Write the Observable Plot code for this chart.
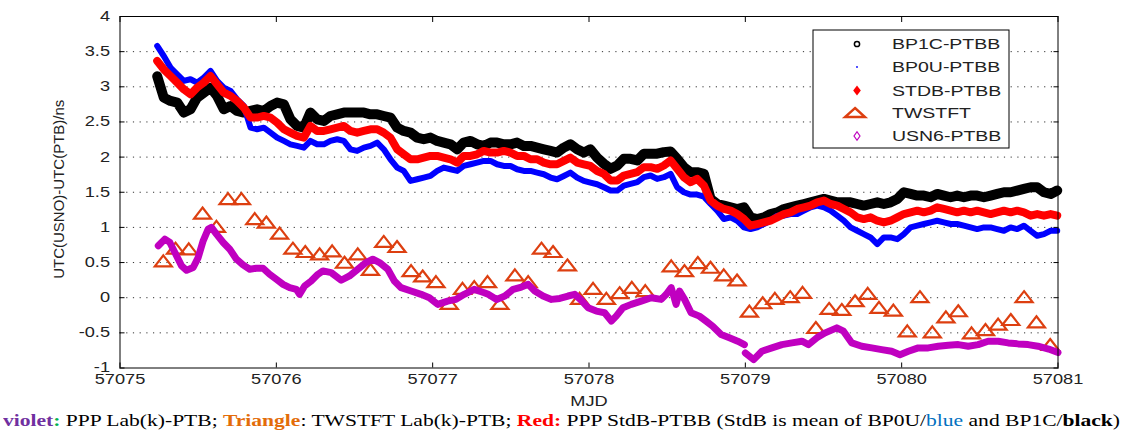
<!DOCTYPE html>
<html><head><meta charset="utf-8">
<script src="https://cdn.jsdelivr.net/npm/d3@7"></script>
<script src="https://cdn.jsdelivr.net/npm/@observablehq/plot@0.6"></script>
<style>
body{margin:0;background:#fff;}
#chart{position:relative;width:1126px;height:433px;overflow:hidden;background:#fff;}
#caption{position:absolute;left:3px;top:411px;white-space:nowrap;font-family:"Liberation Serif","Times New Roman",serif;font-size:17px;line-height:20px;transform-origin:0 0;color:#000;}
</style></head><body>
<div id="chart"></div>
<script>
// ---------- data ----------
const xTicks = [57075, 57076, 57077, 57078, 57079, 57080, 57081];
const yTicks = [-1, -0.5, 0, 0.5, 1, 1.5, 2, 2.5, 3, 3.5, 4];
const yGrid = [-0.5, 0, 0.5, 1, 1.5, 2, 2.5, 3, 3.5];
const seriesNames = ["BP1C-PTBB", "BP0U-PTBB", "STDB-PTBB", "TWSTFT", "USN6-PTBB"];

const denseMjd = [
 57075.238,57075.280,57075.323,57075.366,57075.408,57075.451,57075.493,57075.536,57075.579,57075.621,
 57075.664,57075.707,57075.749,57075.792,57075.835,57075.877,57075.920,57075.963,57076.005,57076.048,
 57076.090,57076.133,57076.176,57076.218,57076.261,57076.304,57076.346,57076.389,57076.432,57076.474,
 57076.517,57076.560,57076.602,57076.645,57076.687,57076.730,57076.773,57076.815,57076.858,57076.901,
 57076.943,57076.986,57077.029,57077.071,57077.114,57077.157,57077.199,57077.242,57077.284,57077.327,
 57077.370,57077.412,57077.455,57077.498,57077.540,57077.583,57077.626,57077.668,57077.711,57077.754,
 57077.796,57077.839,57077.881,57077.924,57077.967,57078.009,57078.052,
 57078.095,57078.138,57078.181,57078.223,57078.266,57078.309,57078.351,57078.394,57078.436,57078.479,
 57078.522,57078.564,57078.607,57078.650,57078.692,57078.735,57078.778,57078.820,57078.863,57078.906,
 57078.948,57078.991,57079.033,57079.076,57079.119,57079.161,57079.204,57079.247,57079.289,57079.332,
 57079.375,57079.417,57079.460,57079.503,57079.545,57079.588,57079.630,57079.673,57079.716,57079.758,
 57079.801,57079.844,57079.886,57079.929,57079.972,57080.014,57080.057,57080.100,57080.142,57080.185,
 57080.227,57080.270,57080.313,57080.355,57080.398,57080.441,57080.483,57080.526,57080.569,57080.611,
 57080.654,57080.697,57080.739,57080.782,57080.825,57080.867,57080.910,57080.953,57080.995];

const bp1c = [
 3.150,2.846,2.799,2.775,2.633,2.680,2.846,2.917,2.988,2.870,
 2.680,2.727,2.656,2.633,2.656,2.680,2.656,2.727,2.775,2.751,
 2.538,2.443,2.419,2.633,2.538,2.514,2.585,2.609,2.633,2.633,
 2.633,2.633,2.609,2.609,2.585,2.562,2.419,2.372,2.348,2.277,
 2.254,2.277,2.230,2.206,2.182,2.111,2.206,2.230,2.182,2.159,
 2.206,2.206,2.182,2.182,2.206,2.159,2.159,2.135,2.111,2.088,
 2.064,2.135,2.182,2.111,2.064,2.111,1.993,
 1.905,1.833,1.881,1.976,1.976,1.952,2.048,2.048,2.048,2.071,
 2.080,1.976,1.857,1.786,1.786,1.762,1.405,1.333,1.310,1.286,
 1.262,1.286,1.143,1.119,1.143,1.190,1.214,1.262,1.286,1.310,
 1.333,1.357,1.381,1.405,1.381,1.357,1.357,1.357,1.333,1.310,
 1.333,1.357,1.333,1.357,1.405,1.500,1.476,1.452,1.452,1.429,
 1.476,1.452,1.429,1.452,1.429,1.452,1.452,1.429,1.452,1.476,
 1.500,1.500,1.524,1.548,1.571,1.571,1.500,1.476,1.524];

const bp0u = [
 3.581,3.438,3.273,3.178,3.083,3.107,3.059,3.130,3.225,3.083,
 2.988,2.941,2.822,2.727,2.419,2.396,2.419,2.348,2.277,2.230,
 2.182,2.159,2.135,2.230,2.182,2.182,2.230,2.254,2.230,2.111,
 2.088,2.135,2.159,2.206,2.111,1.969,1.851,1.803,1.661,1.685,
 1.709,1.732,1.803,1.851,1.827,1.803,1.874,1.898,1.922,1.946,
 1.946,1.898,1.874,1.874,1.827,1.803,1.803,1.780,1.756,1.709,
 1.685,1.732,1.780,1.709,1.661,1.637,1.614,
 1.571,1.524,1.524,1.595,1.619,1.643,1.714,1.738,1.690,1.714,
 1.762,1.571,1.500,1.467,1.467,1.438,1.333,1.238,1.119,1.143,
 1.095,1.000,0.976,1.000,1.048,1.095,1.167,1.167,1.190,1.190,
 1.238,1.286,1.310,1.286,1.238,1.167,1.095,1.000,0.952,0.905,
 0.857,0.762,0.857,0.857,0.833,0.905,1.000,1.024,1.048,1.071,
 1.095,1.071,1.048,1.048,1.024,1.000,0.976,1.000,1.000,0.976,
 0.952,1.000,0.976,1.024,0.952,0.881,0.905,0.952,0.952];

const stdb = [
 3.367,3.249,3.154,3.059,2.964,2.893,2.988,3.059,3.154,3.036,
 2.917,2.870,2.799,2.704,2.562,2.562,2.585,2.562,2.491,2.396,
 2.348,2.301,2.277,2.443,2.372,2.372,2.396,2.419,2.443,2.372,
 2.348,2.372,2.396,2.396,2.348,2.277,2.111,2.040,1.969,1.969,
 1.993,2.017,2.017,1.993,1.969,1.922,2.017,2.017,2.040,2.088,
 2.064,2.064,2.088,2.064,2.017,2.017,1.969,1.969,1.922,1.898,
 1.898,1.946,1.993,1.922,1.898,1.874,1.803,
 1.762,1.667,1.667,1.738,1.762,1.786,1.857,1.857,1.833,1.881,
 1.952,1.833,1.714,1.643,1.690,1.595,1.381,1.310,1.262,1.238,
 1.190,1.119,1.024,1.048,1.071,1.095,1.143,1.190,1.214,1.262,
 1.286,1.310,1.357,1.381,1.333,1.310,1.262,1.214,1.143,1.119,
 1.143,1.095,1.071,1.095,1.143,1.190,1.214,1.238,1.214,1.238,
 1.286,1.262,1.238,1.214,1.238,1.214,1.238,1.214,1.190,1.214,
 1.238,1.214,1.238,1.214,1.167,1.190,1.167,1.190,1.167];

const twMjd = [
 57075.277,57075.355,57075.440,57075.528,57075.617,57075.691,57075.777,57075.862,57075.936,57076.021,
 57076.106,57076.185,57076.277,57076.357,57076.436,57076.521,57076.602,57076.687,57076.772,57076.862,
 57076.936,57077.021,57077.106,57077.191,57077.266,57077.351,57077.430,57077.526,57077.611,57077.696,
 57077.770,57077.862,57077.940,57078.026,57078.111,57078.196,57078.274,57078.360,57078.526,57078.611,
 57078.696,57078.777,57078.862,57078.947,57079.026,57079.111,57079.189,57079.287,57079.366,57079.451,
 57079.536,57079.617,57079.702,57079.783,57079.855,57079.947,57080.036,57080.117,57080.196,57080.283,
 57080.362,57080.447,57080.536,57080.617,57080.698,57080.783,57080.862,57080.950];
const twVal = [
 0.510,0.690,0.681,1.190,1.000,1.395,1.395,1.110,1.062,0.905,
 0.690,0.643,0.610,0.652,0.490,0.610,0.390,0.786,0.714,0.371,
 0.295,0.214,-0.095,0.119,0.143,0.214,-0.095,0.310,0.214,0.690,
 0.643,0.452,-0.024,0.119,-0.024,0.057,0.133,0.086,0.438,0.371,
 0.486,0.419,0.310,0.238,-0.205,-0.086,-0.024,0.000,0.062,-0.438,
 -0.167,-0.181,-0.057,0.048,-0.152,-0.190,-0.486,0.000,-0.500,-0.286,
 -0.200,-0.514,-0.467,-0.390,-0.324,0.000,-0.357,-0.680];

const usnMjd1 = [
 57075.245,57075.287,57075.319,57075.351,57075.394,57075.426,57075.468,57075.500,57075.532,57075.564,
 57075.585,57075.617,57075.660,57075.702,57075.745,57075.787,57075.830,57075.872,57075.915,57075.957,
 57076.000,57076.043,57076.085,57076.128,57076.149,57076.181,57076.223,57076.266,57076.298,57076.351,
 57076.415,57076.468,57076.521,57076.574,57076.617,57076.660,57076.713,57076.755,57076.798,57076.862,
 57076.926,57076.979,57077.032,57077.096,57077.149,57077.202,57077.266,57077.330,57077.355,57077.409,
 57077.462,57077.515,57077.568,57077.611,57077.653,57077.706,57077.760,57077.813,57077.866,57077.909,
 57077.951,57077.994,57078.047,57078.100,57078.143,57078.174,57078.217,57078.270,57078.334,57078.398,
 57078.462,57078.494,57078.526,57078.557,57078.579,57078.611,57078.653,57078.706,57078.749,57078.791,
 57078.845,57078.898,57078.951,57078.994];
const usnVal1 = [
 0.738,0.833,0.786,0.643,0.452,0.390,0.429,0.571,0.810,0.976,
 1.000,0.905,0.786,0.690,0.548,0.467,0.405,0.419,0.419,0.333,
 0.262,0.190,0.143,0.119,0.048,0.167,0.238,0.333,0.381,0.357,
 0.248,0.310,0.405,0.500,0.548,0.500,0.405,0.238,0.143,0.095,
 0.048,0.000,-0.095,-0.048,-0.024,0.048,0.119,0.071,0.048,-0.024,
 0.024,0.119,0.152,0.190,0.095,0.024,-0.024,-0.010,0.024,0.048,
 -0.038,-0.143,-0.190,-0.214,-0.333,-0.262,-0.143,-0.095,-0.048,0.000,
 -0.024,0.048,0.143,-0.095,0.095,-0.024,-0.214,-0.262,-0.333,-0.405,
 -0.524,-0.571,-0.619,-0.667];
const usnMjd2 = [
 57079.000,57079.053,57079.106,57079.170,57079.234,57079.298,57079.362,57079.404,57079.457,57079.511,
 57079.585,57079.628,57079.681,57079.745,57079.809,57079.872,57079.936,57079.989,57080.043,57080.106,
 57080.170,57080.234,57080.298,57080.362,57080.426,57080.489,57080.553,57080.617,57080.681,57080.745,
 57080.809,57080.872,57080.940,57081.000];
const usnVal2 = [
 -0.786,-0.881,-0.762,-0.714,-0.667,-0.643,-0.619,-0.667,-0.571,-0.500,
 -0.429,-0.476,-0.643,-0.690,-0.714,-0.738,-0.762,-0.810,-0.762,-0.714,
 -0.714,-0.690,-0.676,-0.667,-0.690,-0.667,-0.619,-0.619,-0.643,-0.657,
 -0.667,-0.690,-0.730,-0.780];

// ---------- tables ----------
const dense = denseMjd.map((m, i) => ({m, bp1c: bp1c[i], bp0u: bp0u[i], stdb: stdb[i]}));
const tw = twMjd.map((m, i) => ({m, v: twVal[i]}));
const usn = [
  ...usnMjd1.map((m, i) => ({m, v: usnVal1[i], seg: 1})),
  ...usnMjd2.map((m, i) => ({m, v: usnVal2[i], seg: 2}))
];

const colBlack = "#000000", colBlue = "#0000ff", colRed = "#ff0000", colTri = "#dd3f10", colViolet = "#c000c0";
const triSymbol = {draw(ctx) { ctx.moveTo(0, -6.5); ctx.lineTo(8.5, 4.5); ctx.lineTo(-8.5, 4.5); ctx.closePath(); }};

const W = 1126, H = 407;
const svg = Plot.plot({
  width: W, height: H,
  marginLeft: 119.5, marginRight: 68.5, marginTop: 16, marginBottom: 39.5,
  x: {domain: [57075, 57081]},
  y: {domain: [-1, 4]},
  style: {fontFamily: "'Liberation Sans', Arial, sans-serif", fontSize: "14px", color: "#222", background: "#fff", overflow: "visible"},
  marks: [
    Plot.gridY(yGrid, {stroke: "#000", strokeOpacity: 0.8, strokeDasharray: "1.2,5.5", strokeWidth: 1}),
    Plot.line(dense, {x: "m", y: "bp1c", stroke: colBlack, strokeWidth: 10, strokeLinejoin: "round", strokeLinecap: "round"}),
    Plot.line(dense, {x: "m", y: "bp0u", stroke: colBlue, strokeWidth: 6, strokeLinejoin: "round", strokeLinecap: "round"}),
    Plot.line(dense, {x: "m", y: "stdb", stroke: colRed, strokeWidth: 8, strokeLinejoin: "round", strokeLinecap: "round"}),
    Plot.dot(tw, {x: "m", y: "v", symbol: triSymbol, stroke: colTri, strokeWidth: 2.2, fill: "none", r: 6}),
    Plot.line(usn, {x: "m", y: "v", z: "seg", stroke: colViolet, strokeWidth: 7, strokeLinejoin: "round", strokeLinecap: "round"}),
    Plot.frame({stroke: "#000", strokeWidth: 1}),
    Plot.axisY(yTicks, {anchor: "left", tickSize: -5, tickPadding: 15, tickFormat: d => String(d), label: null, stroke: "#000"}),
    Plot.axisY(yTicks, {anchor: "right", tickSize: -5, tickPadding: 0, tickFormat: () => "", label: null, stroke: "#000"}),
    Plot.axisX(xTicks, {anchor: "bottom", tickSize: -5, tickPadding: 11, tickFormat: d => String(d), label: null, stroke: "#000"}),
    Plot.axisX(xTicks, {anchor: "top", tickSize: -5, tickPadding: 0, tickFormat: () => "", label: null, stroke: "#000"}),
    Plot.text(["UTC(USNO)-UTC(PTB)/ns"], {frameAnchor: "left", textAnchor: "middle", lineAnchor: "middle", rotate: -90, dx: -61, dy: -3, fontSize: 15, fill: "#222"}),
    Plot.text(["MJD"], {frameAnchor: "bottom", textAnchor: "middle", lineAnchor: "middle", dy: 34, fontSize: 14, fill: "#222"})
  ]
});

// horizontal stretch of non-rotated labels (the reference text is wide)
const SX = 1.3;
svg.querySelectorAll("text").forEach(t => {
  const tr = t.getAttribute("transform") || "";
  if (tr.includes("rotate")) return;
  t.setAttribute("transform", (tr + ` scale(${SX},1)`).trim());
});

// legend (inside the plot, top-right)
const sel = d3.select(svg);
const lg = sel.append("g").attr("class", "legend");
const bx = 813, by = 30, bw = 196, bh = 118;
lg.append("rect").attr("x", bx).attr("y", by).attr("width", bw).attr("height", bh)
  .attr("fill", "#fff").attr("stroke", "#000").attr("stroke-width", 1);
const rowY = [44, 67, 90.5, 113, 136];
const mx = 857, tx = 892;
lg.append("circle").attr("cx", mx).attr("cy", rowY[0]).attr("r", 2.6).attr("fill", "none").attr("stroke", colBlack).attr("stroke-width", 1.5);
lg.append("circle").attr("cx", mx).attr("cy", rowY[1]).attr("r", 0.9).attr("fill", colBlue);
lg.append("path").attr("d", d3.symbol(d3.symbolDiamond, 30)()).attr("transform", `translate(${mx},${rowY[2]}) scale(1.3,1)`).attr("fill", colRed);
lg.append("path").attr("d", "M0,-5 L10,4 L-10,4 Z").attr("transform", `translate(${mx - 2},${rowY[3]})`).attr("fill", "none").attr("stroke", colTri).attr("stroke-width", 2.4);
lg.append("path").attr("d", d3.symbol(d3.symbolDiamond, 22)()).attr("transform", `translate(${mx},${rowY[4]}) scale(1.2,1)`).attr("fill", "none").attr("stroke", colViolet).attr("stroke-width", 1);
seriesNames.forEach((name, i) => {
  lg.append("text").attr("transform", `translate(${tx},${rowY[i]}) scale(${SX},1)`)
    .attr("text-anchor", "start").attr("dy", "0.35em").attr("font-size", 15).attr("fill", "#222")
    .attr("font-family", "'Liberation Sans', Arial, sans-serif").text(name);
});

const chart = document.getElementById("chart");
chart.appendChild(svg);

// caption below the chart
const cap = document.createElement("div");
cap.id = "caption";
cap.innerHTML = '<b style="color:#7030A0">violet</b><b style="color:#00B050">:</b> PPP Lab(k)-PTB; ' +
  '<b style="color:#E36C09">Triangle</b>: TWSTFT Lab(k)-PTB; ' +
  '<b style="color:#FF0000">Red:</b> PPP StdB-PTBB (StdB is mean of BP0U/<span style="color:#0070C0">blue</span> and BP1C/<b>black</b>)';
chart.appendChild(cap);
const cw = cap.getBoundingClientRect().width;
cap.style.transform = `scaleX(${1117 / cw})`;
</script>
</body></html>
